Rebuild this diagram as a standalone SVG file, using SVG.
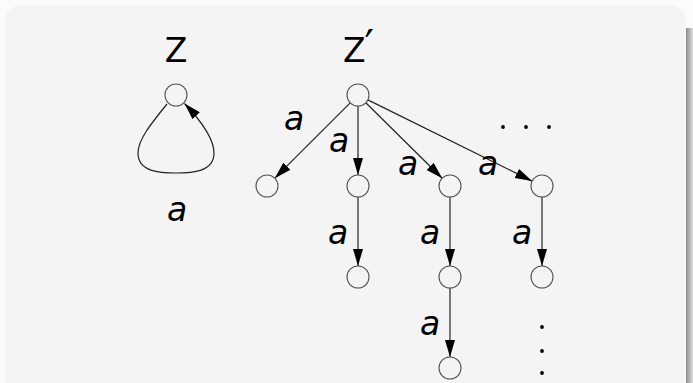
<svg xmlns="http://www.w3.org/2000/svg" width="693" height="383" viewBox="0 0 693 383">
<defs>
<linearGradient id="sh" x1="0" y1="0" x2="1" y2="0">
<stop offset="0" stop-color="#8c8c8c"/>
<stop offset="1" stop-color="#dedede"/>
</linearGradient>
<marker id="ah" markerUnits="userSpaceOnUse" markerWidth="20" markerHeight="12" refX="17" refY="5" orient="auto">
<path d="M0,0 L17,5 L0,10 z" fill="#000"/>
</marker>
</defs>
<style>
.nd{fill:#f3f4f3;stroke:#555;stroke-width:1.1}
.ed{fill:none;stroke:#222;stroke-width:1.2;marker-end:url(#ah)}
.lb{font-family:"DejaVu Sans",sans-serif;font-style:oblique;font-size:33px;fill:#000;text-anchor:middle}
.tt{font-family:"DejaVu Sans",sans-serif;font-size:33px;fill:#000}
.dt{fill:#000}
</style>
<rect width="693" height="383" fill="#fbfbfb"/>
<rect x="686" y="28" width="7" height="360" fill="url(#sh)"/>
<rect x="5" y="5" width="681" height="400" rx="16" fill="#f3f4f3"/>

<text class="tt" x="176" y="62" text-anchor="middle">Z</text>
<text class="tt" x="343" y="62">Z<tspan font-size="42" dx="-1" dy="-2">′</tspan></text>

<g id="connectors">
<path class="ed" d="M167,104 C150,125 138,140 138,153 C138,172 160,173 176,173 C192,173 214,172 214,153 C214,140 204,124 184.5,103.5"/>
<line class="ed" x1="350.2" y1="102.8" x2="274.8" y2="178.2"/>
<line class="ed" x1="358" y1="106" x2="358" y2="175"/>
<line class="ed" x1="365.8" y1="102.7" x2="442.2" y2="178.3"/>
<line class="ed" x1="367.9" y1="99.9" x2="532.1" y2="181.1"/>
<line class="ed" x1="358" y1="197" x2="358" y2="266"/>
<line class="ed" x1="450" y1="197" x2="450" y2="266"/>
<line class="ed" x1="542" y1="197" x2="542" y2="266"/>
<line class="ed" x1="450" y1="288" x2="450" y2="357"/>
<text class="lb" x="177" y="221">a</text>
<text class="lb" x="294" y="130">a</text>
<text class="lb" x="339" y="152">a</text>
<text class="lb" x="408" y="175">a</text>
<text class="lb" x="488" y="175">a</text>
<text class="lb" x="338" y="244">a</text>
<text class="lb" x="430" y="244">a</text>
<text class="lb" x="522" y="244">a</text>
<text class="lb" x="430" y="335">a</text>
</g>

<g id="z"><circle class="nd" cx="176" cy="95" r="11"/></g>
<g id="root"><circle class="nd" cx="358" cy="95" r="11"/></g>
<g id="c1"><circle class="nd" cx="267" cy="186" r="11"/></g>
<g id="c2"><circle class="nd" cx="358" cy="186" r="11"/></g>
<g id="c3"><circle class="nd" cx="450" cy="186" r="11"/></g>
<g id="c4"><circle class="nd" cx="542" cy="186" r="11"/></g>
<g id="c2a"><circle class="nd" cx="358" cy="277" r="11"/></g>
<g id="c3a"><circle class="nd" cx="450" cy="277" r="11"/></g>
<g id="c4a"><circle class="nd" cx="542" cy="277" r="11"/></g>
<g id="c3b"><circle class="nd" cx="450" cy="368" r="11"/></g>

<g id="dots">
<circle class="dt" cx="503" cy="127" r="1.9"/>
<circle class="dt" cx="526" cy="127" r="1.9"/>
<circle class="dt" cx="549" cy="127" r="1.9"/>
<circle class="dt" cx="542" cy="327" r="1.9"/>
<circle class="dt" cx="542" cy="351" r="1.9"/>
<circle class="dt" cx="542" cy="373" r="1.9"/>
</g>
</svg>
